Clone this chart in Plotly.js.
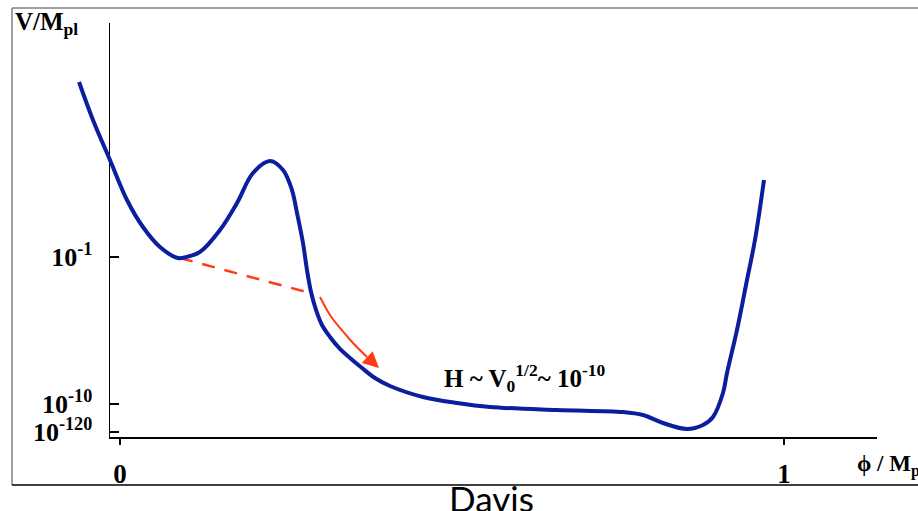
<!DOCTYPE html>
<html>
<head>
<meta charset="utf-8">
<script src="https://cdn.plot.ly/plotly-3.0.1.min.js"></script>
<style>html,body{margin:0;padding:0;background:#fff;}#chart{width:918px;height:511px;}</style>
</head>
<body>
<div id="chart"></div>
<script>
// Potential curve V(phi), schematic units
const phiValues = [-0.0617,-0.0407,-0.0151,0.0105,0.0346,0.0602,0.0873,0.1054,0.1205,0.1506,0.1762,0.2003,0.2259,0.2455,0.2590,0.2666,0.2756,0.2816,0.2877,0.2952,0.3042,0.3163,0.3313,0.3464,0.3645,0.3840,0.4066,0.4563,0.5075,0.5572,0.6581,0.7575,0.7877,0.8178,0.8539,0.8780,0.8931,0.9081,0.9142,0.9292,0.9443,0.9563,0.9699];
const potentialValues = [8.575,7.657,6.691,5.725,5.072,4.589,4.324,4.372,4.469,5.000,5.652,6.377,6.667,6.449,5.966,5.411,4.686,4.034,3.502,3.068,2.705,2.415,2.126,1.908,1.667,1.425,1.232,0.966,0.821,0.725,0.652,0.604,0.531,0.338,0.193,0.290,0.483,1.063,1.546,2.585,3.792,4.758,6.208];

// Tunnelling path (dashed) and roll-down path (solid arrow)
const tunnelPhi = [0.0904, 0.2861];
const tunnelV = [4.324, 3.478];
const rollPhi = [0.3012, 0.3163, 0.3313, 0.3509, 0.3720, 0.3901];
const rollV = [3.382, 2.947, 2.633, 2.271, 1.932, 1.667];

// Axis ticks
const xTickVals = [0, 1];
const xTickText = ['<b>0</b>', '<b>1</b>'];
const yTickVals = [4.348, 0.797, 0.121];
const yTickText = ['<b>10<sup>-1</sup></b>', '<b>10<sup>-10</sup></b>', '<b>10<sup>-120</sup></b>'];

const blue = '#0a1e9e';
const red = '#ff3a14';
const serif = 'Liberation Serif, Times New Roman, serif';

// geometry (pixels)
const W = 918, H = 511, ML = 60, MR = 41, MT = 23, MB = 74;
const plotW = W - ML - MR, plotH = H - MT - MB;
const axisLeftPx = 110;
const px = p => (p - ML) / plotW;          // pixel -> paper x
const py = p => (H - MB - p) / plotH;      // pixel -> paper y
const xMin = -0.01506, xMax = 1.1401;
const unitPerPx = (xMax - xMin) / (W - MR - axisLeftPx);
const x2Min = xMin - (axisLeftPx - ML) * unitPerPx;

const n = rollPhi.length;
const traces = [
  {x: phiValues, y: potentialValues, xaxis: 'x2', yaxis: 'y2', mode: 'lines', line: {color: blue, width: 4, shape: 'spline', smoothing: 1}, hoverinfo: 'skip'},
  {x: tunnelPhi, y: tunnelV, mode: 'lines', line: {color: red, width: 2.5, dash: '13px,10px'}, hoverinfo: 'skip'},
  {x: rollPhi.slice(0, n - 1), y: rollV.slice(0, n - 1), mode: 'lines', line: {color: red, width: 2, shape: 'spline'}, hoverinfo: 'skip'}
];

const layout = {
  width: W, height: H,
  margin: {l: ML, r: MR, t: MT, b: MB},
  paper_bgcolor: '#fff', plot_bgcolor: 'rgba(0,0,0,0)',
  showlegend: false,
  xaxis: {
    domain: [px(axisLeftPx), 1],
    range: [xMin, xMax], showgrid: false, zeroline: false,
    showline: true, linecolor: '#000', linewidth: 1.5,
    tickmode: 'array', tickvals: xTickVals, ticktext: xTickText,
    ticks: 'outside', ticklen: 6, tickwidth: 1.5, tickcolor: '#000',
    tickfont: {family: serif, size: 27, color: '#000'}, ticklabelstandoff: 6
  },
  yaxis: {
    range: [0, 10], showgrid: false, zeroline: false,
    showline: true, linecolor: '#000', linewidth: 1.5,
    tickmode: 'array', tickvals: yTickVals, ticktext: yTickText,
    ticks: 'inside', ticklen: 9, tickwidth: 1.5, tickcolor: '#000',
    tickfont: {family: serif, size: 26, color: '#000'}, ticklabelstandoff: 11
  },
  xaxis2: {domain: [0, 1], range: [x2Min, xMax], anchor: 'y2', visible: false, showgrid: false, zeroline: false},
  yaxis2: {domain: [0, 1], range: [0, 10], anchor: 'x2', visible: false, showgrid: false, zeroline: false},
  shapes: [
    {type: 'line', xref: 'paper', yref: 'paper', x0: px(12), x1: px(12), y0: py(485), y1: py(8), line: {color: '#808080', width: 1.5}},
    {type: 'line', xref: 'paper', yref: 'paper', x0: px(12), x1: px(925), y0: py(8), y1: py(8), line: {color: '#808080', width: 1.5}},
    {type: 'line', xref: 'paper', yref: 'paper', x0: px(12), x1: px(925), y0: py(485), y1: py(485), line: {color: '#000', width: 1.5}}
  ],
  annotations: [
    {x: rollPhi[n - 1], y: rollV[n - 1], ax: rollPhi[n - 2], ay: rollV[n - 2], axref: 'x', ayref: 'y', xref: 'x', yref: 'y',
     text: '', showarrow: true, arrowhead: 2, arrowsize: 1.6, arrowwidth: 2, arrowcolor: red},
    {xref: 'paper', yref: 'paper', x: px(442), y: py(378), xanchor: 'left', yanchor: 'middle', showarrow: false,
     text: '<b>H ~ V<sub>0</sub><sup>1/2</sup>~ 10<sup>-10</sup></b>', font: {family: serif, size: 25, color: '#000'}},
    {xref: 'paper', yref: 'paper', x: px(13), y: py(23), xanchor: 'left', yanchor: 'middle', showarrow: false,
     text: '<b>V/M<sub>pl</sub></b>', font: {family: serif, size: 25, color: '#000'}},
    {xref: 'paper', yref: 'paper', x: px(855), y: py(465), xanchor: 'left', yanchor: 'middle', showarrow: false,
     text: '<b>\u03d5 / M<sub>pl</sub></b>', font: {family: serif, size: 23, color: '#000'}},
    {xref: 'paper', yref: 'paper', x: px(491), y: py(498), xanchor: 'center', yanchor: 'middle', showarrow: false,
     text: 'Davis', font: {family: 'Lato, sans-serif', size: 35, color: '#000'}}
  ]
};

Plotly.newPlot('chart', traces, layout, {staticPlot: true, displayModeBar: false});
</script>
</body>
</html>
